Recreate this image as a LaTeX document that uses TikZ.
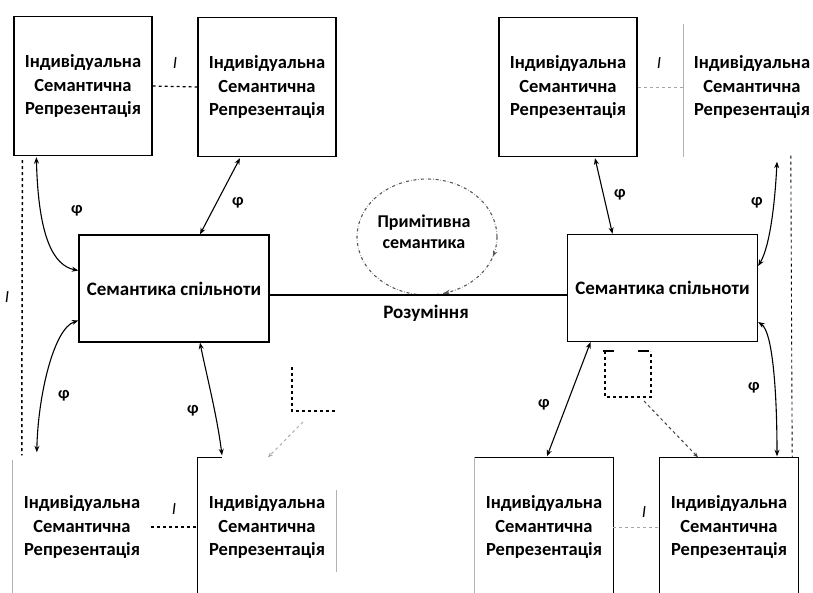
\documentclass[tikz,border=0pt]{standalone}
\usepackage{fontspec}
\setmainfont{Carlito}
\usetikzlibrary{arrows.meta,calc,decorations.markings}
\begin{document}
\begin{tikzpicture}[x=1pt,y=-1pt,
  txt/.style={align=center,font=\fontsize{18.5}{23.5}\selectfont\bfseries,inner sep=0pt},
  sbox/.style={txt,minimum width=138pt,minimum height=139pt},
  cbox/.style={align=center,font=\fontsize{19}{23}\selectfont\bfseries,inner sep=0pt,minimum width=190pt,minimum height=107pt,draw,line width=1.3pt},
  frame/.style={draw,line width=1.3pt},
  edgeline/.style={line width=1.3pt},
  faint/.style={line width=0.8pt,gray!60},
  conn/.style={line width=1.1pt,{Stealth[length=6.5pt,width=5pt]}-{Stealth[length=6.5pt,width=5pt]}},
  rel/.style={dashed,line width=1.2pt},
  frel/.style={dashed,line width=0.9pt,gray!70},
  lbl/.style={font=\fontsize{16.5}{16.5}\selectfont\bfseries,inner sep=1pt},
  ilbl/.style={font=\fontsize{17}{17}\selectfont\itshape,inner sep=1pt},
  psline/.style={dash dot,line width=1.1pt,gray!70!black}]
\useasboundingbox (0,0) rectangle (813,592);
\clip (0,0) rectangle (813,592);

% top boxes
\node[sbox,frame] (tl) at (83,86) {Індивідуальна\\Семантична\\Репрезентація};
\node[sbox,frame] (tm) at (267,87) {Індивідуальна\\Семантична\\Репрезентація};
\node[sbox,frame] (tr1) at (568,87) {Індивідуальна\\Семантична\\Репрезентація};
\node[sbox] (tr2) at (752,87) {Індивідуальна\\Семантична\\Репрезентація};
\draw[faint] ([xshift=1pt,yshift=-7pt]tr2.north west) -- ([xshift=1pt]tr2.south west);

% community boxes
\node[cbox] (lc) at (174,288.5) {Семантика спільноти};
\node[cbox] (rc) at (662.5,288) {Семантика спільноти};

% bottom boxes
\node[sbox] (bl1) at (82,527) {Індивідуальна\\Семантична\\Репрезентація};
\node[sbox] (bl2) at (267,527) {Індивідуальна\\Семантична\\Репрезентація};
\node[sbox] (br1) at (544,527) {Індивідуальна\\Семантична\\Репрезентація};
\node[sbox] (br2) at (729,527) {Індивідуальна\\Семантична\\Репрезентація};
\draw[faint] ([yshift=-3pt]bl1.north west) -- (bl1.south west);
\draw[edgeline] ([xshift=24pt]bl2.north west) -- (bl2.north west) -- (bl2.south west);
\draw[faint] ([yshift=-33pt]bl2.north east) -- ([yshift=25pt]bl2.south east);
\draw[faint] (br1.north west) -- (br1.south west);
\draw[edgeline] (br1.north west) -- (br1.north east) -- (br1.south east);
\draw[edgeline] (br2.south west) -- (br2.north west) -- (br2.north east) -- (br2.south east);

% primitive semantics
\node[font=\fontsize{18}{21}\selectfont\bfseries,align=center,inner sep=0pt] (ps) at (424,232) {Примітивна\\семантика};
\draw[psline,postaction={decorate},decoration={markings,
   mark=at position 0.05 with {\arrow{Stealth[length=6pt,width=4.5pt]}},
   mark=at position 0.21 with {\arrow{Stealth[length=7pt,width=5pt]}}}]
   ([xshift=3pt,yshift=-5pt]ps.center) ellipse [x radius=70, y radius=58];

% understanding
\draw[line width=1.2pt] ([yshift=-6.5pt]lc.east) -- ([yshift=-7pt]rc.west);
\node[font=\fontsize{19}{19}\selectfont\bfseries] (und) at (426,313) {Розуміння};

% I relations (horizontal)
\draw[rel] (tl.east) -- (tm.west);
\node[ilbl] (i1) at (175,63) {I};
\draw[frel] (tr1.east) -- ([xshift=1pt]tr2.west);
\node[ilbl] (i2) at (659,63) {I};
\draw[rel] (bl1.east) -- (bl2.west);
\node[ilbl] (i3) at (174,509) {I};
\draw[frel] (br1.east) -- (br2.west);
\node[ilbl] (i4) at (644,512) {I};

% I relations (vertical)
\draw[rel,line width=1.5pt] ([xshift=9pt,yshift=-4pt]tl.south west) -- ([xshift=9pt,yshift=2pt]bl1.north west);
\node[ilbl] (i5) at (7,297) {I};
\draw[dashed,line width=0.9pt] ([xshift=108pt,yshift=1pt]tr2.south west) -- ([xshift=-6pt]br2.north east);

% phi connectors, left
\draw[conn] ([xshift=23pt,yshift=-1pt]tl.south west) .. controls +(2,80) and +(-25,-5) .. ([yshift=18pt]lc.west);
\node[lbl] (p1) at (77,211) {φ};
\draw[conn] ([yshift=-32pt]lc.west) .. controls +(-25,8) and +(1,-55) .. ([xshift=24pt,yshift=5pt]bl1.north west);
\node[lbl] (p2) at (64,396) {φ};
\draw[conn] ([xshift=-27pt,yshift=-1pt]tm.south) -- ([xshift=26pt]lc.north);
\node[lbl] (p3) at (238,203) {φ};
\draw[conn] ([xshift=26pt]lc.south) .. controls +(6,30) and +(-5,-40) .. ([xshift=-45pt,yshift=2pt]bl2.north);
\node[lbl] (p4) at (193,411) {φ};

% phi connectors, right
\draw[conn] ([xshift=27pt,yshift=-1pt]tr1.south) -- ([xshift=-50pt]rc.north);
\node[lbl] (p5) at (620,195) {φ};
\draw[conn] ([xshift=-72pt]rc.south) -- ([xshift=3pt,yshift=1pt]br1.north);
\node[lbl] (p6) at (544,405) {φ};
\draw[conn] ([yshift=22pt]rc.east) .. controls +(12,-20) and +(-2,40) .. ([xshift=25pt,yshift=-5pt]tr2.south);
\node[lbl] (p7) at (757,203) {φ};
\draw[conn] ([yshift=-34pt]rc.east) .. controls +(15,10) and +(0,-60) .. ([xshift=48pt,yshift=1pt]br2.north);
\node[lbl] (p8) at (754,388) {φ};

% small dashed marks
\coordinate (lcorner) at (292,411);
\draw[rel] (292,367) -- (lcorner) -- (337,411);
\draw[frel,-{Stealth[length=5pt,width=4pt]}] ([xshift=11pt,yshift=-11pt]lcorner) -- ([xshift=1pt]bl2.north);
\coordinate (rcorner) at (651,397);
\draw[rel] (605,351) -- (605,397) -- (rcorner) -- (651,351);
\draw[rel,dash pattern=on 11pt off 24pt] (603,351) -- (651,351);
\draw[dashed,line width=1pt,gray!50!black,-{Stealth[length=5pt,width=4pt]}] ([xshift=-7pt,yshift=-4pt]rcorner) -- ([xshift=-31pt]br2.north);
\end{tikzpicture}
\end{document}
